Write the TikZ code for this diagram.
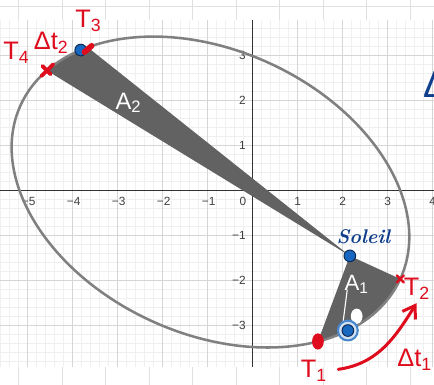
\documentclass[tikz,border=0pt]{standalone}
\usepackage{fontspec}
\setsansfont{Liberation Sans}
\usepackage{tikz}
\usetikzlibrary{arrows.meta, positioning, calc}
\definecolor{penred}{RGB}{222,12,28}
\definecolor{penblue}{RGB}{14,62,140}
\definecolor{ptblue}{RGB}{24,103,192}
\definecolor{ptedge}{RGB}{12,40,80}
\definecolor{ringblue}{RGB}{70,135,205}
\definecolor{wedgegray}{RGB}{98,98,98}
\definecolor{orbitgray}{RGB}{128,128,128}
\tikzstyle{paper} = [draw=black!12, line width=0.6pt]
\tikzstyle{minorgrid} = [draw=black!6, line width=0.4pt]
\tikzstyle{majorgrid} = [draw=black!16, line width=0.6pt]
\tikzstyle{axisline} = [draw=black!80, line width=0.6pt]
\tikzstyle{ticklabel} = [font=\sffamily\fontsize{7.5}{8}\selectfont, text=black!75, inner sep=0pt]
\tikzstyle{orbit} = [draw=orbitgray, line width=1.6pt]
\tikzstyle{wedge} = [fill=wedgegray]
\tikzstyle{planet} = [circle, fill=ptblue, draw=ptedge, line width=0.6pt, inner sep=0pt, minimum size=2.6mm]
\tikzstyle{redpen} = [text=penred, font=\sffamily\fontsize{16}{16}\selectfont, inner sep=0pt]
\tikzstyle{chalk} = [text=white, font=\sffamily\fontsize{15}{15}\selectfont, inner sep=0pt]
\tikzstyle{redmark} = [draw=penred, line width=2.4pt, line cap=round]
\tikzstyle{arrow} = [draw=penred, line width=1.9pt, line cap=round, -{Straight Barb[length=2.6mm, width=3.4mm]}]

\begin{document}
\begin{tikzpicture}
    \useasboundingbox[fill=white] (-5.607,-4.318) rectangle (4.038,4.238);
    % paper around the graph
    \draw[paper] (-5.607,4.104) -- (4.038,4.104);
    \foreach \k in {0,...,9} {
      \draw[paper] ({-5.188+0.9667*\k},3.793) -- ++(0,0.445);
      \draw[paper] ({-5.188+0.9667*\k},-4.318) -- ++(0,0.407);
    }
    % grid and axes
    \draw[minorgrid] (-5.607,-3.911) grid[step=0.2] (4.038,3.793);
    \draw[majorgrid] (-5.607,-3.911) grid[step=1] (4.038,3.793);
    \draw[axisline] (-5.607,0) -- (4.038,0);
    \draw[axisline] (0,-3.911) -- (0,3.793);
    \node[ticklabel] (xm5) at (-4.97,-0.24) {−5};
    \node[ticklabel] (xm4) at (-3.97,-0.24) {−4};
    \node[ticklabel] (xm3) at (-2.97,-0.24) {−3};
    \node[ticklabel] (xm2) at (-1.97,-0.24) {−2};
    \node[ticklabel] (xm1) at (-0.97,-0.24) {−1};
    \node[ticklabel] (x0) at (-0.21,-0.24) {0};
    \node[ticklabel] (x1) at (1.01,-0.24) {1};
    \node[ticklabel] (x2) at (2.01,-0.24) {2};
    \node[ticklabel] (x3) at (3.01,-0.24) {3};
    \node[ticklabel] (x4) at (4.01,-0.24) {4};
    \node[ticklabel, anchor=east] (y3) at (-0.14,3) {3};
    \node[ticklabel, anchor=east] (y2) at (-0.14,2) {2};
    \node[ticklabel, anchor=east] (y1) at (-0.14,1) {1};
    \node[ticklabel, anchor=east] (ym1) at (-0.14,-1) {−1};
    \node[ticklabel, anchor=east] (ym2) at (-0.14,-2) {−2};
    \node[ticklabel, anchor=east] (ym3) at (-0.14,-3) {−3};
    % orbit with the two swept areas
    \begin{scope}[shift={(-0.93,-0.03)}, rotate=-24.6]
      \coordinate (sun) at (3.407,0);
      \coordinate (t1) at ({4.64*cos(-40)},{3.15*sin(-40)});
      \coordinate (t2) at (4.64,0);
      \coordinate (t3) at ({4.64*cos(145.4)},{3.15*sin(145.4)});
      \coordinate (t4) at ({4.64*cos(162.6)},{3.15*sin(162.6)});
      \coordinate (p1) at ({4.64*cos(-29)},{3.15*sin(-29)});
      \coordinate (p3) at ({4.64*cos(148)},{3.15*sin(148)});
      \fill[wedge] (sun) -- (t1) arc[start angle=-40, end angle=0, x radius=4.64, y radius=3.15] -- cycle;
      \fill[wedge] (sun) -- (t4) arc[start angle=162.6, end angle=145.4, x radius=4.64, y radius=3.15] -- cycle;
      \draw[orbit] (0,0) ellipse[x radius=4.64, y radius=3.15];
    \end{scope}
    % white chalk on the areas
    \node[chalk] (a2) at (-2.75,1.95) {A\textsubscript{2}};
    \node[chalk, font=\sffamily\fontsize{14}{14}\selectfont] (a1) at (2.32,-2.08) {A\textsubscript{1}};
    \fill[white] (2.32,-2.79) ellipse[x radius=0.13, y radius=0.17];
    % points
    \node[circle, draw=ringblue, line width=1.3pt, fill=ringblue!25, minimum size=4.4mm] (ring) at (p1) {};
    \draw[white, line width=0.7pt] (2.11,-2.2) -- (ring.115);
    \node[planet] (q1) at (p1) {};
    \node[planet] (q3) at (p3) {};
    \node[planet] (soleil) at (sun) {};
    \node[text=penblue, font=\itshape\bfseries\fontsize{12.5}{12.5}\selectfont, inner sep=0pt] (lsoleil) at (2.47,-1.03) {Soleil};
    \node[text=penblue, font=\sffamily\fontsize{24}{24}\selectfont, inner sep=0pt] (delta) at (4.08,2.37) {Δ};
    % red pen
    \draw[redmark] ($(t4)+(-0.12,-0.12)$) -- ($(t4)+(0.14,0.14)$);
    \draw[redmark] ($(t4)+(-0.1,0.1)$) -- ($(t4)+(0.08,-0.08)$);
    \draw[redmark, line width=3.6pt] (-3.73,3.08) -- (-3.57,3.22);
    \fill[penred] (t1) ellipse[x radius=0.13, y radius=0.18];
    \draw[redmark, line width=1.5pt] ($(t2)+(-0.08,-0.08)$) -- ($(t2)+(0.08,0.08)$);
    \draw[redmark, line width=1.5pt] ($(t2)+(-0.08,0.08)$) -- ($(t2)+(0.08,-0.08)$);
    \node[redpen] (lt4) at (-5.24,3.06) {T\textsubscript{4}};
    \node[redpen] (ldt2) at (-4.47,3.28) {Δt\textsubscript{2}};
    \node[redpen] (lt3) at (-3.64,3.78) {T\textsubscript{3}};
    \node[redpen] (lt1) at (1.37,-4.0) {T\textsubscript{1}};
    \node[redpen] (lt2) at (3.66,-2.18) {T\textsubscript{2}};
    \node[redpen] (ldt1) at (3.61,-3.76) {Δt\textsubscript{1}};
    \coordinate (ds) at (1.91,-3.97);
    \coordinate (de) at (3.65,-2.50);
    \draw[arrow] (ds) to[out=8, in=-122] (de);
  \end{tikzpicture}
\end{document}
